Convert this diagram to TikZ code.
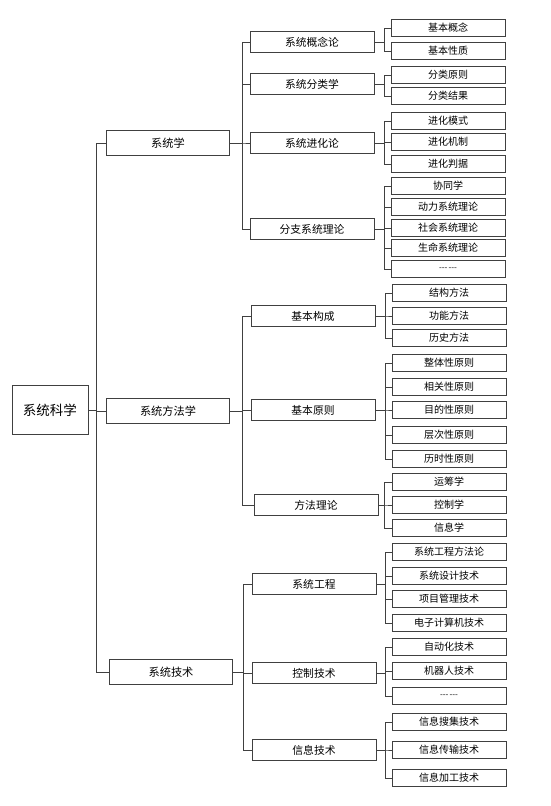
\documentclass[tikz,border=0pt]{standalone}
\usepackage{fontspec}
\setmainfont{Noto Sans CJK SC}
\begin{document}
\begin{tikzpicture}[
    x=1pt, y=-1pt,
    line width=0.8pt,
    rootbox/.style={rectangle, draw=black!75, inner sep=0pt, minimum height=49pt, minimum width=76pt, font=\fontsize{13.5}{14}\selectfont},
    mainbox/.style={rectangle, draw=black!75, inner sep=0pt, minimum height=25pt, minimum width=123pt, font=\fontsize{11.2}{12}\selectfont},
    subbox/.style={rectangle, draw=black!75, inner sep=0pt, minimum height=21pt, minimum width=124pt, font=\fontsize{10.8}{11}\selectfont},
    leafbox/.style={rectangle, draw=black!75, inner sep=0pt, minimum height=17pt, minimum width=114pt, font=\fontsize{10}{10}\selectfont},
    link/.style={draw=black!75}
  ]
  \useasboundingbox (0,0) rectangle (550,806);

  % Nodes
  \node[rootbox] (kexue) at (50,410) {系统科学};

  \node[mainbox] (xitongxue) at (168,143) {系统学};
  \node[mainbox] (fangfaxue) at (168,411) {系统方法学};
  \node[mainbox] (jishu) at (171,672) {系统技术};

  \node[subbox] (gainian) at (312,42) {系统概念论};
  \node[subbox] (fenlei) at (312,84) {系统分类学};
  \node[subbox] (jinhua) at (312,143) {系统进化论};
  \node[subbox] (fenzhi) at (312,229) {分支系统理论};
  \node[subbox] (goucheng) at (313,316) {基本构成};
  \node[subbox] (yuanze) at (313,410) {基本原则};
  \node[subbox] (lilun) at (316,505) {方法理论};
  \node[subbox] (gongcheng) at (314,584) {系统工程};
  \node[subbox] (kongzhi) at (314,673) {控制技术};
  \node[subbox] (xinxi) at (314,750) {信息技术};

  \node[leafbox] (gn1) at (448,28) {基本概念};
  \node[leafbox] (gn2) at (448,51) {基本性质};
  \node[leafbox] (fl1) at (448,75) {分类原则};
  \node[leafbox] (fl2) at (448,96) {分类结果};
  \node[leafbox] (jh1) at (448,121) {进化模式};
  \node[leafbox] (jh2) at (448,142) {进化机制};
  \node[leafbox] (jh3) at (448,164) {进化判据};
  \node[leafbox] (fz1) at (448,186) {协同学};
  \node[leafbox] (fz2) at (448,207) {动力系统理论};
  \node[leafbox] (fz3) at (448,228) {社会系统理论};
  \node[leafbox] (fz4) at (448,248) {生命系统理论};
  \node[leafbox] (fz5) at (448,269) {\footnotesize{-}{-}{-}\,{-}{-}{-}};
  \node[leafbox] (gc1) at (449,293) {结构方法};
  \node[leafbox] (gc2) at (449,316) {功能方法};
  \node[leafbox] (gc3) at (449,338) {历史方法};
  \node[leafbox] (yz1) at (449,363) {整体性原则};
  \node[leafbox] (yz2) at (449,387) {相关性原则};
  \node[leafbox] (yz3) at (449,410) {目的性原则};
  \node[leafbox] (yz4) at (449,435) {层次性原则};
  \node[leafbox] (yz5) at (449,459) {历时性原则};
  \node[leafbox] (ll1) at (449,482) {运筹学};
  \node[leafbox] (ll2) at (449,505) {控制学};
  \node[leafbox] (ll3) at (449,528) {信息学};
  \node[leafbox] (gch1) at (449,552) {系统工程方法论};
  \node[leafbox] (gch2) at (449,576) {系统设计技术};
  \node[leafbox] (gch3) at (449,599) {项目管理技术};
  \node[leafbox] (gch4) at (449,623) {电子计算机技术};
  \node[leafbox] (kz1) at (449,647) {自动化技术};
  \node[leafbox] (kz2) at (449,671) {机器人技术};
  \node[leafbox] (kz3) at (449,696) {\footnotesize{-}{-}{-}\,{-}{-}{-}};
  \node[leafbox] (xx1) at (449,722) {信息搜集技术};
  \node[leafbox] (xx2) at (449,750) {信息传输技术};
  \node[leafbox] (xx3) at (449,778) {信息加工技术};

  % Edges
  \draw[link] (kexue.east) -- ++(8,0) |- (xitongxue.west);
  \draw[link] (kexue.east) -- ++(8,0) |- (fangfaxue.west);
  \draw[link] (kexue.east) -- ++(8,0) |- (jishu.west);

  \draw[link] (xitongxue.east) -- ++(12,0) |- (gainian.west);
  \draw[link] (xitongxue.east) -- ++(12,0) |- (fenlei.west);
  \draw[link] (xitongxue.east) -- ++(12,0) |- (jinhua.west);
  \draw[link] (xitongxue.east) -- ++(12,0) |- (fenzhi.west);
  \draw[link] (fangfaxue.east) -- ++(12,0) |- (goucheng.west);
  \draw[link] (fangfaxue.east) -- ++(12,0) |- (yuanze.west);
  \draw[link] (fangfaxue.east) -- ++(12,0) |- (lilun.west);
  \draw[link] (jishu.east) -- ++(10,0) |- (gongcheng.west);
  \draw[link] (jishu.east) -- ++(10,0) |- (kongzhi.west);
  \draw[link] (jishu.east) -- ++(10,0) |- (xinxi.west);

  \draw[link] (gainian.east) -- ++(10,0) |- (gn1.west);
  \draw[link] (gainian.east) -- ++(10,0) |- (gn2.west);
  \draw[link] (fenlei.east) -- ++(10,0) |- (fl1.west);
  \draw[link] (fenlei.east) -- ++(10,0) |- (fl2.west);
  \draw[link] (jinhua.east) -- ++(10,0) |- (jh1.west);
  \draw[link] (jinhua.east) -- ++(10,0) |- (jh2.west);
  \draw[link] (jinhua.east) -- ++(10,0) |- (jh3.west);
  \draw[link] (fenzhi.east) -- ++(10,0) |- (fz1.west);
  \draw[link] (fenzhi.east) -- ++(10,0) |- (fz2.west);
  \draw[link] (fenzhi.east) -- ++(10,0) |- (fz3.west);
  \draw[link] (fenzhi.east) -- ++(10,0) |- (fz4.west);
  \draw[link] (fenzhi.east) -- ++(10,0) |- (fz5.west);
  \draw[link] (goucheng.east) -- ++(10,0) |- (gc1.west);
  \draw[link] (goucheng.east) -- ++(10,0) |- (gc2.west);
  \draw[link] (goucheng.east) -- ++(10,0) |- (gc3.west);
  \draw[link] (yuanze.east) -- ++(10,0) |- (yz1.west);
  \draw[link] (yuanze.east) -- ++(10,0) |- (yz2.west);
  \draw[link] (yuanze.east) -- ++(10,0) |- (yz3.west);
  \draw[link] (yuanze.east) -- ++(10,0) |- (yz4.west);
  \draw[link] (yuanze.east) -- ++(10,0) |- (yz5.west);
  \draw[link] (lilun.east) -- ++(6,0) |- (ll1.west);
  \draw[link] (lilun.east) -- ++(6,0) |- (ll2.west);
  \draw[link] (lilun.east) -- ++(6,0) |- (ll3.west);
  \draw[link] (gongcheng.east) -- ++(9,0) |- (gch1.west);
  \draw[link] (gongcheng.east) -- ++(9,0) |- (gch2.west);
  \draw[link] (gongcheng.east) -- ++(9,0) |- (gch3.west);
  \draw[link] (gongcheng.east) -- ++(9,0) |- (gch4.west);
  \draw[link] (kongzhi.east) -- ++(9,0) |- (kz1.west);
  \draw[link] (kongzhi.east) -- ++(9,0) |- (kz2.west);
  \draw[link] (kongzhi.east) -- ++(9,0) |- (kz3.west);
  \draw[link] (xinxi.east) -- ++(9,0) |- (xx1.west);
  \draw[link] (xinxi.east) -- ++(9,0) |- (xx2.west);
  \draw[link] (xinxi.east) -- ++(9,0) |- (xx3.west);

\end{tikzpicture}
\end{document}
